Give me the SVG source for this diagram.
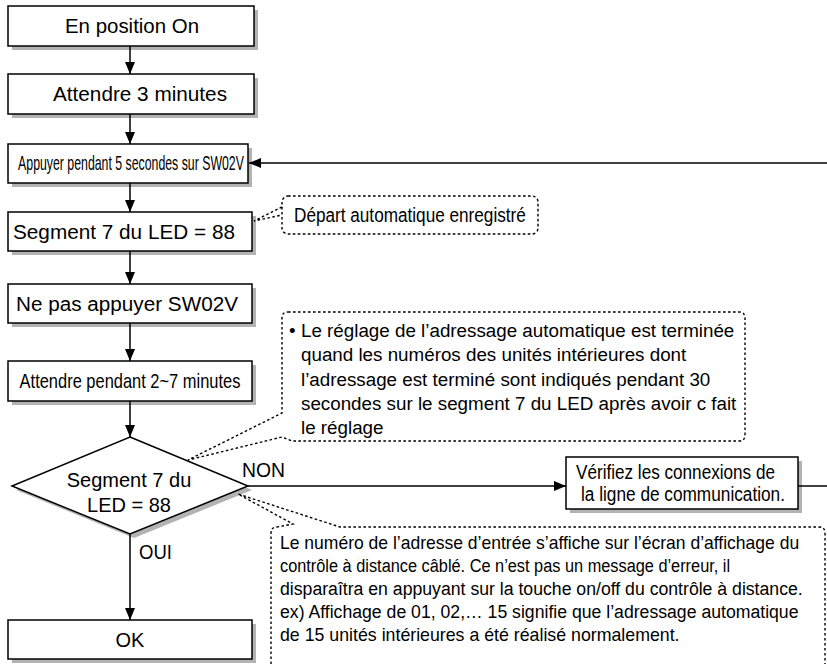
<svg xmlns="http://www.w3.org/2000/svg" width="827" height="664" viewBox="0 0 827 664">
  <defs>
    <marker id="arrow" markerUnits="userSpaceOnUse" markerWidth="12" markerHeight="10" refX="12" refY="5" orient="auto">
      <path d="M0,0 L12,5 L0,10 Z" fill="#000"/>
    </marker>
    <style>
      .shadow { fill: #b3b3b3; }
      .box { fill: #fff; stroke: #000; stroke-width: 1.5; }
      .conn { fill: none; stroke: #000; stroke-width: 1.5; }
      .note { fill: none; stroke: #000; stroke-width: 1.4; stroke-dasharray: 2.6 2.4; }
      .t { font-family: "Liberation Sans", Arial, sans-serif; fill: #000; }
      .n { font-family: "Liberation Sans Narrow", "Liberation Sans", Arial, sans-serif; fill: #000; }
      .big { font-size: 20px; }
      .cond { font-size: 20px; }
      .memo { font-size: 19px; }
    </style>
  </defs>
  <rect width="827" height="664" fill="#fff"/>

  <!-- flow boxes -->
  <g id="start">
    <rect class="shadow" x="12" y="10" width="246" height="40"/>
    <rect class="box" x="8" y="6" width="246" height="40"/>
    <text class="t big" x="132" y="33" text-anchor="middle" textLength="134" lengthAdjust="spacingAndGlyphs">En position On</text>
  </g>
  <g id="wait3">
    <rect class="shadow" x="12" y="78" width="246" height="40"/>
    <rect class="box" x="8" y="74" width="246" height="40"/>
    <text class="t big" x="140" y="101" text-anchor="middle" textLength="174" lengthAdjust="spacingAndGlyphs">Attendre 3 minutes</text>
  </g>
  <g id="press">
    <rect class="shadow" x="12" y="148" width="240" height="39"/>
    <rect class="box" x="8" y="144" width="240" height="39"/>
    <text class="n cond" transform="translate(131,170) scale(0.616,1)" text-anchor="middle">Appuyer pendant 5 secondes sur SW02V</text>
  </g>
  <g id="seg88">
    <rect class="shadow" x="12" y="216" width="244" height="39"/>
    <rect class="box" x="8" y="212" width="244" height="39"/>
    <text class="t big" x="124" y="239" text-anchor="middle" textLength="222" lengthAdjust="spacingAndGlyphs">Segment 7 du LED = 88</text>
  </g>
  <g id="nopress">
    <rect class="shadow" x="12" y="288" width="244" height="39"/>
    <rect class="box" x="8" y="284" width="244" height="39"/>
    <text class="t big" x="127" y="311" text-anchor="middle" textLength="222" lengthAdjust="spacingAndGlyphs">Ne pas appuyer SW02V</text>
  </g>
  <g id="wait27">
    <rect class="shadow" x="12" y="365" width="244" height="40"/>
    <rect class="box" x="8" y="361" width="244" height="40"/>
    <text class="n cond" transform="translate(130,388) scale(0.823,1)" text-anchor="middle">Attendre pendant 2~7 minutes</text>
  </g>
  <g id="decision">
    <polygon class="shadow" points="134,441 252,490 134,538 16,490"/>
    <polygon class="box" points="130,437 248,486 130,534 12,486"/>
    <text class="t big" x="129" y="487" text-anchor="middle">Segment 7 du</text>
    <text class="t big" x="129" y="512" text-anchor="middle">LED = 88</text>
  </g>
  <g id="ok">
    <rect class="shadow" x="12" y="624" width="244" height="39"/>
    <rect class="box" x="8" y="620" width="244" height="39"/>
    <text class="t big" x="130" y="647" text-anchor="middle">OK</text>
  </g>
  <g id="check">
    <rect class="shadow" x="570" y="461" width="232" height="52"/>
    <rect class="box" x="566" y="457" width="232" height="52"/>
    <text class="n cond" transform="translate(576,479) scale(0.857,1)">Vérifiez les connexions de</text>
    <text class="n cond" transform="translate(581,501) scale(0.862,1)">la ligne de communication.</text>
  </g>

  <!-- annotation callouts -->
  <g id="note-start">
    <rect class="note" x="282" y="196" width="256" height="38" rx="6"/>
    <path class="note" d="M282,207 L254,221 L282,215"/>
    <text class="n cond" transform="translate(294,222) scale(0.859,1)">Départ automatique enregistré</text>
  </g>
  <g id="note-done">
    <path class="note" d="M288,312 H739 Q745,312 745,318 V435 Q745,441 739,441 H292 L282,437 L188,460 L282,413 V318 Q282,312 288,312 Z"/>
    <g class="t" font-size="18.8">
      <text x="289" y="337">•</text>
      <text x="301" y="337">Le réglage de l’adressage automatique est terminée</text>
      <text x="301" y="361">quand les numéros des unités intérieures dont</text>
      <text x="301" y="386">l’adressage est terminé sont indiqués pendant 30</text>
      <text x="301" y="410">secondes sur le segment 7 du LED après avoir c fait</text>
      <text x="301" y="434">le réglage</text>
    </g>
  </g>
  <g id="note-display">
    <path class="note" d="M271,664 V533 Q271,527 277,527 L293,524 L238,494 L340,527 H819 Q825,527 825,533 V664"/>
    <g class="n memo">
      <text transform="translate(280,549) scale(0.922,1)">Le numéro de l’adresse d’entrée s’affiche sur l’écran d’affichage du</text>
      <text transform="translate(280,572) scale(0.86,1)">contrôle à distance câblé. Ce n’est pas un message d’erreur, il</text>
      <text transform="translate(280,595) scale(0.93,1)">disparaîtra en appuyant sur la touche on/off du contrôle à distance.</text>
      <text transform="translate(280,618) scale(0.929,1)">ex) Affichage de 01, 02,… 15 signifie que l’adressage automatique</text>
      <text transform="translate(280,641) scale(0.935,1)">de 15 unités intérieures a été réalisé normalement.</text>
    </g>
  </g>

  <!-- connectors -->
  <g id="connectors">
    <line class="conn" x1="130" y1="46" x2="130" y2="74" marker-end="url(#arrow)"/>
    <line class="conn" x1="130" y1="114" x2="130" y2="144" marker-end="url(#arrow)"/>
    <line class="conn" x1="827" y1="163" x2="249" y2="163" marker-end="url(#arrow)"/>
    <line class="conn" x1="130" y1="183" x2="130" y2="212" marker-end="url(#arrow)"/>
    <line class="conn" x1="130" y1="251" x2="130" y2="284" marker-end="url(#arrow)"/>
    <line class="conn" x1="130" y1="323" x2="130" y2="361" marker-end="url(#arrow)"/>
    <line class="conn" x1="130" y1="401" x2="130" y2="437" marker-end="url(#arrow)"/>
    <line class="conn" x1="248" y1="486" x2="566" y2="486" marker-end="url(#arrow)"/>
    <line class="conn" x1="798" y1="486" x2="827" y2="486"/>
    <line class="conn" x1="130" y1="534" x2="130" y2="620" marker-end="url(#arrow)"/>
    <text class="t big" x="242" y="477" textLength="43" lengthAdjust="spacingAndGlyphs">NON</text>
    <text class="n cond" transform="translate(139,559) scale(0.927,1)">OUI</text>
  </g>
</svg>
